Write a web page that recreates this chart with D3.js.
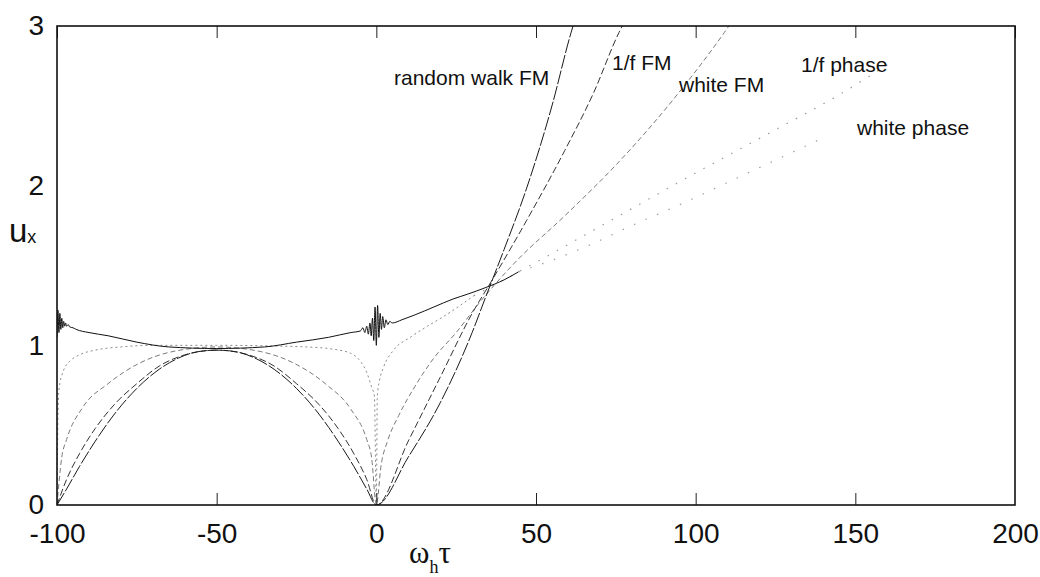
<!DOCTYPE html>
<html lang="en">
<head>
<meta charset="UTF-8">
<title>u_x versus omega_h tau</title>
<script src="https://d3js.org/d3.v7.min.js"></script>
<style>
  body { margin: 0; background: #fff; }
  svg { display: block; }
  .tick text { font-family: "Liberation Sans", Arial, sans-serif; font-size: 28px; fill: #111; }
  .note { font-family: "Liberation Sans", Arial, sans-serif; font-size: 21px; fill: #111; }
</style>
</head>
<body>
<svg id="chart" width="1040" height="577"></svg>
<script>
// ---- data ----
const xTicks = [-100, -50, 0, 50, 100, 150, 200];
const yTicks = [0, 1, 2, 3];

// random walk FM
const rwfmX = [-100, -97, -93, -88, -82, -75, -68, -62, -56, -50, -44, -38, -32, -25, -18, -12, -7, -3, 0,
               10, 20, 30, 34, 40, 47, 55, 61, 61.6];
const rwfmY = [0, 0.1, 0.24, 0.4, 0.57, 0.73, 0.85, 0.92, 0.96, 0.97, 0.96, 0.92, 0.85, 0.73, 0.57, 0.4, 0.24, 0.1, 0,
               0.3, 0.64, 1.08, 1.29, 1.6, 1.98, 2.5, 2.96, 3.0];

// 1/f FM
const ffmX = [-100, -97, -93, -88, -82, -75, -68, -60, -50, -40, -32, -25, -18, -12, -7, -3, 0,
              10, 20, 30, 36, 47, 59, 68, 76, 77];
const ffmY = [0, 0.16, 0.32, 0.48, 0.63, 0.76, 0.87, 0.94, 0.97, 0.94, 0.87, 0.76, 0.63, 0.48, 0.32, 0.16, 0,
              0.4, 0.8, 1.2, 1.4, 1.78, 2.22, 2.58, 2.96, 3.0];

// white FM
const wfmX = [-100, -98.5, -97, -92, -84, -74, -64, -50, -36, -26, -16, -8, -3, -1.5, 0,
              1.5, 3.5, 7, 12, 18, 25, 32, 43, 60, 76, 93, 109, 110.4];
const wfmY = [0, 0.3, 0.41, 0.61, 0.76, 0.89, 0.96, 0.99, 0.96, 0.89, 0.76, 0.6, 0.41, 0.3, 0,
              0.25, 0.4, 0.56, 0.74, 0.92, 1.08, 1.26, 1.51, 1.83, 2.15, 2.54, 2.96, 3.0];

// 1/f phase (solid part, then sparse dots)
const fpmX = [-100, -99.7, -99.4, -98, -96, -93, -88, -80, -70, -50, -30, -22, -15, -8, -5, -3, -1.5, -0.6, 0,
              0.3, 1, 2.2, 5.4, 10.6, 16, 21, 30.5];
const fpmY = [0, 0.55, 0.72, 0.84, 0.9, 0.94, 0.97, 0.99, 1.0, 1.0, 0.995, 0.99, 0.98, 0.95, 0.9, 0.83, 0.74, 0.68, 0,
              0.68, 0.78, 0.86, 0.97, 1.05, 1.12, 1.18, 1.31];
const fpmTailX = [30.5, 50, 75, 100, 125, 145, 161];
const fpmTailY = [1.31, 1.52, 1.8, 2.08, 2.35, 2.57, 2.77];

// white phase (ringing near the ends, then sparse dots)
const wpmX = [-100, -99.7, -99.4, -99.1, -98.8, -98.5, -98.2, -97.9, -97.6, -97.3, -97, -96.5, -96, -95, -94,
              -90, -84, -75, -65, -50, -35, -25, -15, -8, -5, -4.2, -3.6, -3, -2.5, -2, -1.6, -1.2, -0.8, -0.4, 0,
              0.4, 0.8, 1.2, 1.6, 2, 2.5, 3, 3.6, 4.2, 5, 8, 12, 18, 24, 28.5, 34, 40, 44.5];
const wpmY = [1.05, 1.22, 1.08, 1.2, 1.1, 1.17, 1.11, 1.15, 1.12, 1.14, 1.12, 1.13, 1.115, 1.11, 1.1,
              1.08, 1.06, 1.02, 0.99, 0.98, 0.99, 1.02, 1.05, 1.08, 1.09, 1.11, 1.08, 1.12, 1.07, 1.14, 1.06, 1.17, 1.03, 1.24, 1.0,
              1.25, 1.05, 1.2, 1.1, 1.18, 1.11, 1.16, 1.13, 1.15, 1.14, 1.16, 1.19, 1.24, 1.29, 1.32, 1.36, 1.41, 1.46];
const wpmTailX = [44.5, 56, 67, 80, 96, 110, 125, 140];
const wpmTailY = [1.46, 1.54, 1.63, 1.75, 1.89, 2.02, 2.16, 2.3];

const labels = ["random walk FM", "1/f FM", "white FM", "1/f phase", "white phase"];

// ---- drawing ----
const svg = d3.select("#chart");
const x = d3.scaleLinear().domain([-100, 200]).range([57, 1015]);
const y = d3.scaleLinear().domain([0, 3]).range([505, 26]);

svg.append("clipPath").attr("id", "plot")
  .append("rect").attr("x", 57).attr("y", 26).attr("width", 958).attr("height", 479);

const line = d3.line().x(d => x(d[0])).y(d => y(d[1])).curve(d3.curveMonotoneX);
const zip = (xs, ys) => xs.map((v, i) => [v, ys[i]]);

const curves = [
  { pts: zip(wfmX, wfmY),         stroke: "#7a7a7a", width: 1,   dash: "5,3" },
  { pts: zip(fpmX, fpmY),         stroke: "#8a8a8a", width: 1,   dash: "2,3" },
  { pts: zip(fpmTailX, fpmTailY), stroke: "#9a9a9a", width: 1.2, dash: "1.5,9" },
  { pts: zip(wpmTailX, wpmTailY), stroke: "#a0a0a0", width: 1.2, dash: "1.5,11" },
  { pts: zip(ffmX, ffmY),         stroke: "#333",    width: 1,   dash: "7,3" },
  { pts: zip(rwfmX, rwfmY),       stroke: "#1a1a1a", width: 1,   dash: "14,2" },
  { pts: zip(wpmX, wpmY),         stroke: "#111",    width: 1,   dash: null }
];

const g = svg.append("g").attr("clip-path", "url(#plot)");
curves.forEach(c => {
  g.append("path")
    .attr("d", line(c.pts))
    .attr("fill", "none")
    .attr("stroke", c.stroke)
    .attr("stroke-width", c.width)
    .attr("stroke-dasharray", c.dash);
});

// axes
const fmt = d => String(d);   // plain hyphen, as in the original
const xAxis = svg.append("g").attr("transform", "translate(0,505)")
  .call(d3.axisBottom(x).tickValues(xTicks).tickSizeInner(-12).tickSizeOuter(0).tickPadding(18).tickFormat(fmt));
svg.append("g").attr("transform", "translate(0,26)")
  .call(d3.axisTop(x).tickValues(xTicks).tickSizeInner(-12).tickSizeOuter(0).tickFormat(""));
svg.append("g").attr("transform", "translate(57,0)")
  .call(d3.axisLeft(y).tickValues(yTicks).tickSize(0).tickPadding(13).tickFormat(fmt));

svg.selectAll(".domain").remove();
svg.selectAll(".tick line").attr("stroke", "#222");
xAxis.selectAll(".tick").filter(d => d === -100 || d === 200).select("line").remove();

// frame
svg.append("rect").attr("x", 57).attr("y", 26).attr("width", 958).attr("height", 479)
  .attr("fill", "none").attr("stroke", "#111").attr("stroke-width", 1.6);

// curve labels
const notePos = [[394, 85], [612, 70], [679, 92], [801, 72], [857, 135]];
svg.selectAll(".note").data(labels).join("text")
  .attr("class", "note")
  .attr("x", (d, i) => notePos[i][0])
  .attr("y", (d, i) => notePos[i][1])
  .text(d => d);

// axis titles
const yt = svg.append("text").attr("x", 9).attr("y", 242)
  .style("font-family", "'Liberation Sans', Arial, sans-serif").attr("fill", "#111");
yt.append("tspan").style("font-size", "33px").text("u");
yt.append("tspan").style("font-size", "18px").attr("dy", 1).text("x");

const xt = svg.append("text").attr("x", 409).attr("y", 563)
  .style("font-family", "'Liberation Serif', 'DejaVu Serif', serif").attr("fill", "#111");
xt.append("tspan").style("font-size", "31px").text("ω");
xt.append("tspan").style("font-size", "18px").attr("dy", 10).text("h");
xt.append("tspan").style("font-size", "31px").attr("dy", -10).text("τ");
</script>
</body>
</html>
